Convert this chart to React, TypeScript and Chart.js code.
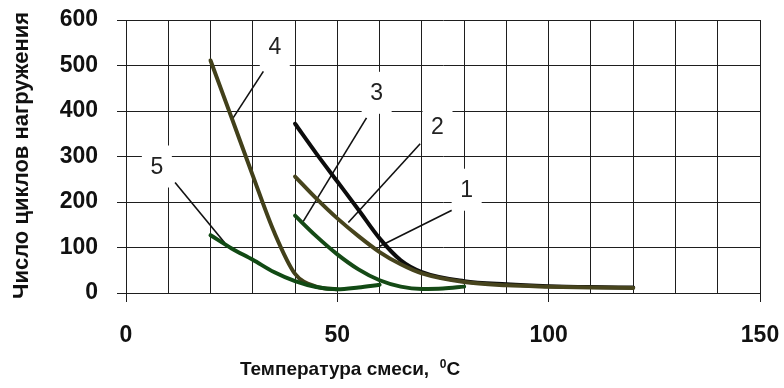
import React, { useEffect, useRef } from 'react';
import { Chart, registerables } from 'chart.js';

Chart.register(...registerables);

const FONT = '"Liberation Sans", Arial, Helvetica, sans-serif';

// ---- Data ----
const curve1X = [40, 45, 50, 55, 60, 65, 70, 80, 90, 100, 110, 120];
const curve1Y = [372, 307, 245, 183, 120, 72, 46, 26, 19, 15, 13, 12];

const curve2X = [40, 45, 50, 55, 60, 65, 70, 80, 90, 100, 110, 120];
const curve2Y = [256, 208, 164, 125, 90, 63, 43, 24, 17, 14, 12, 11];

const curve3X = [40, 45, 50, 55, 60, 65, 70, 75, 80];
const curve3Y = [170, 125, 85, 52, 28, 14, 9, 10, 14];

const curve4X = [20, 25, 30, 35, 40, 45, 50];
const curve4Y = [511, 385, 258, 135, 42, 14, 8];

const curve5X = [20, 25, 30, 35, 40, 45, 50, 55, 60];
const curve5Y = [127, 98, 73, 46, 26, 13, 8, 12, 18];

const xTickLabels = [0, 50, 100, 150];
const yTickValues = [0, 100, 200, 300, 400, 500, 600];

// callouts: label number, label position, leader line from -> to (data units)
const calloutText = ['1', '2', '3', '4', '5'];
const calloutLabelX = [80.6, 73.7, 59.3, 35.2, 7.3];
const calloutLabelY = [227, 366, 440, 542, 278];
const calloutFromX = [77.1, 69.6, 56.9, 32.5, 11.6];
const calloutFromY = [182, 328, 385, 487, 243];
const calloutToX = [59.9, 52.6, 41.9, 25.0, 23.4];
const calloutToY = [102, 155, 157, 380, 110];

const xTitle = 'Температура смеси,  ';
const xTitleSup = '0';
const xTitleUnit = 'C';
const yTitle = 'Число циклов нагружения';

const pts = (xs: number[], ys: number[]) => xs.map((x, i) => ({ x, y: ys[i] }));

export default function App() {
  const ref = useRef<HTMLCanvasElement>(null);

  useEffect(() => {
    if (!ref.current) return;

    const calloutPlugin = {
      id: 'callouts',
      beforeDatasetsDraw(chart: any) {
        const { ctx } = chart;
        const xs = chart.scales.x;
        const ys = chart.scales.y;
        ctx.save();
        ctx.strokeStyle = '#111';
        ctx.lineWidth = 1.6;
        for (let i = 0; i < calloutText.length; i++) {
          ctx.beginPath();
          ctx.moveTo(xs.getPixelForValue(calloutFromX[i]), ys.getPixelForValue(calloutFromY[i]));
          ctx.lineTo(xs.getPixelForValue(calloutToX[i]), ys.getPixelForValue(calloutToY[i]));
          ctx.stroke();
        }
        ctx.fillStyle = '#ffffff';
        for (let i = 0; i < calloutText.length; i++) {
          const cx = xs.getPixelForValue(calloutLabelX[i]);
          const cy = ys.getPixelForValue(calloutLabelY[i]);
          ctx.fillRect(cx - 15, cy - 21, 30, 42);
        }
        ctx.fillStyle = '#222';
        ctx.font = `23px ${FONT}`;
        ctx.textAlign = 'center';
        ctx.textBaseline = 'middle';
        for (let i = 0; i < calloutText.length; i++) {
          const cx = xs.getPixelForValue(calloutLabelX[i]);
          const cy = ys.getPixelForValue(calloutLabelY[i]);
          ctx.fillText(calloutText[i], cx, cy + 1);
        }
        ctx.restore();
      },
    };

    const titlesPlugin = {
      id: 'axisTitles',
      afterDraw(chart: any) {
        const { ctx, chartArea } = chart;
        ctx.save();
        ctx.fillStyle = '#111';
        // y title
        ctx.font = `bold 22px ${FONT}`;
        ctx.textAlign = 'center';
        ctx.textBaseline = 'middle';
        ctx.translate(22, (chartArea.top + chartArea.bottom) / 2 - 1);
        ctx.rotate(-Math.PI / 2);
        ctx.fillText(yTitle, 0, 0);
        ctx.restore();

        ctx.save();
        ctx.fillStyle = '#111';
        ctx.textAlign = 'left';
        ctx.textBaseline = 'alphabetic';
        const mainFont = `bold 19px ${FONT}`;
        const supFont = `bold 12px ${FONT}`;
        ctx.font = mainFont;
        const w1 = ctx.measureText(xTitle).width;
        const w3 = ctx.measureText(xTitleUnit).width;
        ctx.font = supFont;
        const w2 = ctx.measureText(xTitleSup).width;
        const total = w1 + w2 + w3;
        const cx = 350;
        const base = 375;
        let x = cx - total / 2;
        ctx.font = mainFont;
        ctx.fillText(xTitle, x, base);
        x += w1;
        ctx.font = supFont;
        ctx.fillText(xTitleSup, x, base - 7);
        x += w2;
        ctx.font = mainFont;
        ctx.fillText(xTitleUnit, x, base);
        ctx.restore();
      },
    };

    const mk = (label: string, xs: number[], ys: number[], color: string, width: number) => ({
      label,
      data: pts(xs, ys),
      borderColor: color,
      backgroundColor: color,
      borderWidth: width,
      pointRadius: 0,
      fill: false,
      cubicInterpolationMode: 'monotone' as const,
      borderCapStyle: 'round' as const,
    });

    const chart = new Chart(ref.current, {
      type: 'line',
      data: {
        datasets: [
          mk('5', curve5X, curve5Y, '#114a14', 4),
          mk('3', curve3X, curve3Y, '#154a16', 4),
          mk('2', curve2X, curve2Y, '#47441d', 4),
          mk('4', curve4X, curve4Y, '#42401a', 4),
          mk('1', curve1X, curve1Y, '#0c0c0c', 4),
        ],
      },
      options: {
        animation: false,
        responsive: true,
        maintainAspectRatio: false,
        layout: { padding: 0 },
        plugins: {
          legend: { display: false },
          tooltip: { enabled: false },
        },
        scales: {
          x: {
            type: 'linear',
            min: 0,
            max: 150,
            afterFit: (s: any) => {
              s.height = 95;
              s.paddingLeft = 0;
              s.paddingRight = 24;
            },
            ticks: {
              stepSize: 10,
              autoSkip: false,
              maxRotation: 0,
              padding: 20,
              color: '#111',
              font: { family: FONT, size: 23, weight: 'bold' },
              callback: (v: any) => (xTickLabels.includes(Number(v)) ? String(v) : ''),
            },
            grid: {
              color: '#1e1e1e',
              lineWidth: 1,
              tickLength: 9,
              tickColor: (c: any) =>
                c.tick && xTickLabels.includes(Number(c.tick.value)) ? '#1e1e1e' : 'rgba(0,0,0,0)',
            },
            border: { display: true, color: '#1e1e1e', width: 1 },
          },
          y: {
            type: 'linear',
            min: 0,
            max: 600,
            afterFit: (s: any) => {
              s.width = 126;
              s.paddingTop = 20;
              s.paddingBottom = 0;
            },
            ticks: {
              stepSize: 100,
              padding: 19,
              color: '#111',
              font: { family: FONT, size: 23, weight: 'bold' },
              callback: (v: any) => (yTickValues.includes(Number(v)) ? String(v) : ''),
            },
            grid: {
              color: '#1e1e1e',
              lineWidth: 1,
              tickLength: 9,
              tickColor: '#1e1e1e',
            },
            border: { display: true, color: '#1e1e1e', width: 1 },
          },
        },
      },
      plugins: [calloutPlugin, titlesPlugin],
    });

    return () => chart.destroy();
  }, []);

  return (
    <div style={{ position: 'fixed', left: 0, top: 0, width: 784, height: 388, background: '#fff' }}>
      <canvas ref={ref} />
    </div>
  );
}
